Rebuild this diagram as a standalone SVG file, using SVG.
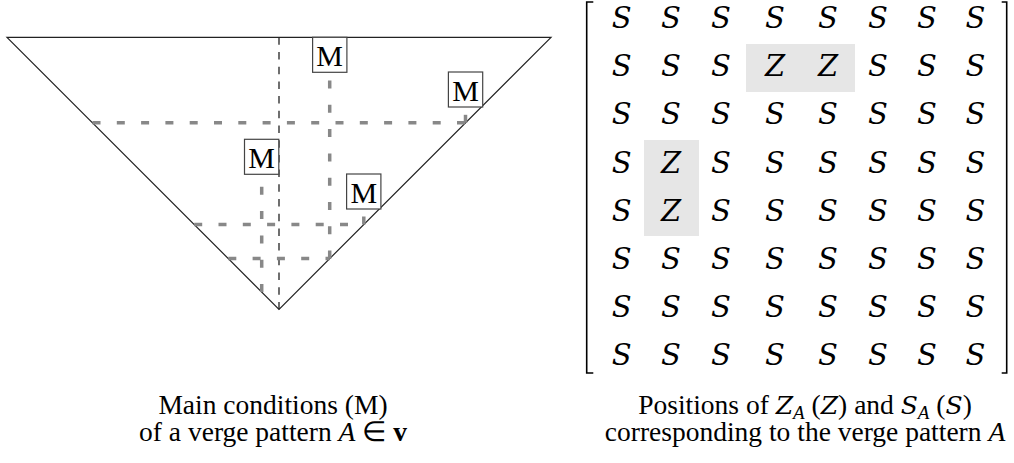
<svg xmlns="http://www.w3.org/2000/svg" width="1014" height="463" viewBox="0 0 1014 463">
<style>
.edge{fill:none;stroke:#222;stroke-width:1.2}
.axis{fill:none;stroke:#222;stroke-width:1.3;stroke-dasharray:7.5 7.2}
.cond{fill:none;stroke:#888;stroke-width:3.5;stroke-dasharray:8 16.3}
.mbox{fill:#fff;stroke:#444;stroke-width:1.2}
.mtxt{font-family:"Liberation Serif","Times New Roman",serif;font-size:30px;text-anchor:middle;fill:#000}
.cell{font-family:"DejaVu Serif","Liberation Serif",serif;font-style:italic;font-size:29px;text-anchor:middle;fill:#000}
.hl{fill:#e6e6e6}
.br{fill:none;stroke:#000;stroke-width:1.6}
.cap{font-family:"Liberation Serif","Times New Roman",serif;font-size:27.5px;text-anchor:middle;fill:#000}
.it{font-style:italic}
.cal{font-family:"DejaVu Serif","Liberation Serif",serif;font-style:italic;font-size:25px}
</style>
<rect width="1014" height="463" fill="#fff"/>
<g id="triangle">
<path class="edge" d="M7,37.3 L551,37.3 L279,309.3 Z"/>
<line class="axis" x1="279" y1="37.3" x2="279" y2="309.3"/>
</g>
<g id="connectors">
<line class="cond" x1="228.3" y1="258.6" x2="329.7" y2="258.6"/>
<line class="cond" x1="329.7" y1="258.6" x2="329.7" y2="72.3"/>
<line class="cond" x1="92.5" y1="122.8" x2="465.5" y2="122.8"/>
<line class="cond" x1="465.5" y1="122.8" x2="465.5" y2="107"/>
<line class="cond" x1="261.7" y1="292" x2="261.7" y2="174"/>
<line class="cond" x1="194.2" y1="224.5" x2="363.8" y2="224.5"/>
<line class="cond" x1="363.8" y1="224.5" x2="363.8" y2="209"/>
</g>
<g id="m1"><rect class="mbox" x="312.6" y="37.3" width="34.3" height="35"/><text class="mtxt" x="329.7" y="65.8">M</text></g>
<g id="m2"><rect class="mbox" x="448.4" y="72" width="34.3" height="35"/><text class="mtxt" x="465.5" y="100.5">M</text></g>
<g id="m3"><rect class="mbox" x="244.5" y="139.3" width="34.3" height="35"/><text class="mtxt" x="261.7" y="167.8">M</text></g>
<g id="m4"><rect class="mbox" x="346.6" y="174" width="34.3" height="35"/><text class="mtxt" x="363.8" y="202.5">M</text></g>
<g id="matrix">
<rect class="hl" x="746" y="44" width="109" height="48"/>
<rect class="hl" x="644" y="140" width="55" height="96"/>
<path class="br" d="M593.3,2 H586.7 V373 H593.3"/>
<path class="br" d="M1001.7,2 H1006.7 V373 H1001.7"/>
<text class="cell" x="621.7 671 721 775 828 878 927 975.5" y="28">SSSSSSSS</text>
<text class="cell" x="621.7 671 721 775 828 878 927 975.5" y="76.2">SSSZZSSS</text>
<text class="cell" x="621.7 671 721 775 828 878 927 975.5" y="124.4">SSSSSSSS</text>
<text class="cell" x="621.7 671 721 775 828 878 927 975.5" y="172.6">SZSSSSSS</text>
<text class="cell" x="621.7 671 721 775 828 878 927 975.5" y="220.8">SZSSSSSS</text>
<text class="cell" x="621.7 671 721 775 828 878 927 975.5" y="269">SSSSSSSS</text>
<text class="cell" x="621.7 671 721 775 828 878 927 975.5" y="317.2">SSSSSSSS</text>
<text class="cell" x="621.7 671 721 775 828 878 927 975.5" y="365.4">SSSSSSSS</text>
</g>
<g id="captions">
<text class="cap" x="273" y="414">Main conditions (M)</text>
<text class="cap" x="273" y="441">of a verge pattern <tspan class="it">A</tspan> ∈ <tspan font-weight="bold">v</tspan></text>
<text class="cap" x="805" y="414">Positions of <tspan class="cal">Z</tspan><tspan class="it" font-size="19" dy="5">A</tspan><tspan dy="-5"> (</tspan><tspan class="cal">Z</tspan>) and <tspan class="cal">S</tspan><tspan class="it" font-size="19" dy="5">A</tspan><tspan dy="-5"> (</tspan><tspan class="cal">S</tspan>)</text>
<text class="cap" x="805" y="441">corresponding to the verge pattern <tspan class="it">A</tspan></text>
</g>
</svg>
